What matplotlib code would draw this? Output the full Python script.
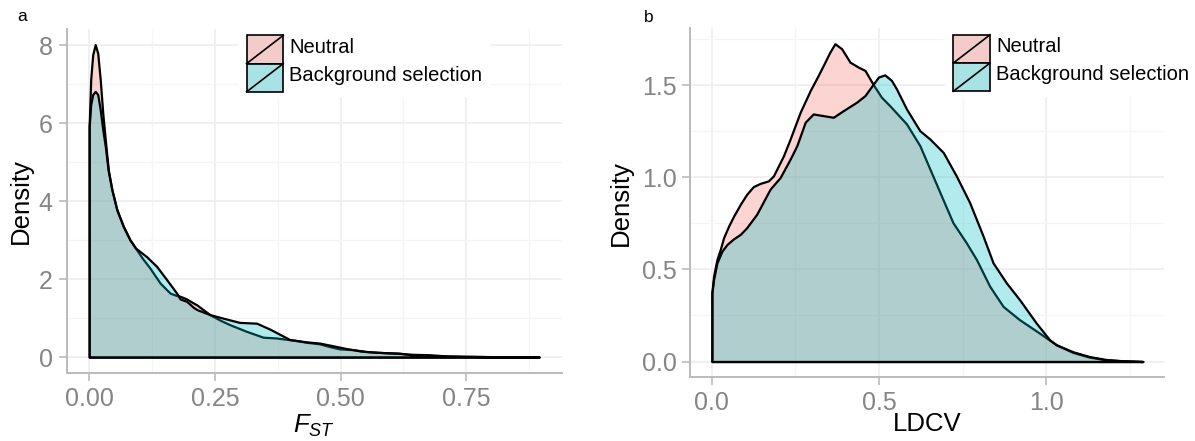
import matplotlib
matplotlib.use("Agg")
import matplotlib.pyplot as plt
from matplotlib.patches import Rectangle, Patch
from matplotlib.lines import Line2D
from matplotlib.legend_handler import HandlerBase
from matplotlib.ticker import MultipleLocator, FormatStrFormatter

plt.rcParams["font.family"] = ["Liberation Sans", "DejaVu Sans"]
plt.rcParams["mathtext.fontset"] = "custom"
plt.rcParams["mathtext.rm"] = "Liberation Sans"
plt.rcParams["mathtext.it"] = "Liberation Sans:italic"

# --- data ---
labels = ["Neutral", "Background selection"]
colors = ["#F8766D", "#00BFC4"]

# panel a: FST densities
fst_x_neutral = [0.000, 0.003, 0.007, 0.012, 0.017, 0.022, 0.027, 0.032, 0.038, 0.045,
                 0.055, 0.068, 0.081, 0.092, 0.105, 0.121, 0.141, 0.161, 0.174, 0.181,
                 0.194, 0.207, 0.214, 0.240, 0.260, 0.280, 0.313, 0.346, 0.372, 0.409,
                 0.432, 0.458, 0.478, 0.498, 0.525, 0.551, 0.577, 0.610, 0.644, 0.677,
                 0.710, 0.743, 0.809, 0.895]
fst_d_neutral = [5.92, 7.12, 7.76, 8.02, 7.80, 7.12, 6.26, 5.58, 4.81, 4.30,
                 3.78, 3.35, 3.01, 2.80, 2.55, 2.28, 1.90, 1.64, 1.58, 1.56,
                 1.49, 1.39, 1.34, 1.09, 0.95, 0.83, 0.66, 0.51, 0.49, 0.43,
                 0.38, 0.34, 0.27, 0.21, 0.19, 0.14, 0.12, 0.10, 0.07, 0.06,
                 0.03, 0.02, 0.01, 0.00]

fst_x_bgs = [0.000, 0.003, 0.007, 0.012, 0.017, 0.022, 0.027, 0.032, 0.038, 0.045,
             0.055, 0.068, 0.081, 0.092, 0.114, 0.134, 0.154, 0.174, 0.181, 0.194,
             0.207, 0.214, 0.240, 0.266, 0.299, 0.333, 0.359, 0.399, 0.432, 0.458,
             0.485, 0.511, 0.538, 0.564, 0.591, 0.617, 0.644, 0.670, 0.696, 0.743,
             0.809, 0.895]
fst_d_bgs = [5.92, 6.48, 6.74, 6.82, 6.74, 6.35, 5.84, 5.41, 4.77, 4.30,
             3.78, 3.35, 3.01, 2.80, 2.58, 2.33, 1.99, 1.64, 1.49, 1.43,
             1.28, 1.22, 1.09, 1.00, 0.89, 0.87, 0.72, 0.45, 0.39, 0.36,
             0.29, 0.22, 0.16, 0.13, 0.11, 0.10, 0.05, 0.03, 0.03, 0.02,
             0.01, 0.00]

# panel b: LDCV densities
ldcv_x_neutral = [0.000, 0.005, 0.015, 0.025, 0.035, 0.050, 0.065, 0.085, 0.104, 0.124,
                  0.144, 0.169, 0.184, 0.214, 0.234, 0.264, 0.294, 0.318, 0.338, 0.353,
                  0.368, 0.388, 0.413, 0.438, 0.458, 0.483, 0.507, 0.532, 0.582, 0.622,
                  0.652, 0.682, 0.721, 0.761, 0.791, 0.831, 0.871, 0.920, 0.980, 1.030,
                  1.080, 1.129, 1.179, 1.229, 1.289]
ldcv_d_neutral = [0.372, 0.463, 0.554, 0.608, 0.672, 0.735, 0.789, 0.853, 0.907, 0.949,
                  0.966, 0.980, 1.007, 1.116, 1.207, 1.352, 1.470, 1.552, 1.624, 1.679,
                  1.724, 1.697, 1.624, 1.597, 1.579, 1.501, 1.434, 1.388, 1.289, 1.171,
                  1.044, 0.917, 0.753, 0.644, 0.554, 0.408, 0.299, 0.227, 0.154, 0.091,
                  0.049, 0.024, 0.009, 0.004, 0.000]

ldcv_x_bgs = [0.000, 0.005, 0.015, 0.030, 0.045, 0.065, 0.085, 0.104, 0.134, 0.174,
              0.204, 0.234, 0.254, 0.279, 0.303, 0.333, 0.363, 0.393, 0.433, 0.458,
              0.483, 0.498, 0.517, 0.537, 0.552, 0.582, 0.622, 0.652, 0.692, 0.731,
              0.771, 0.811, 0.841, 0.881, 0.920, 0.970, 1.010, 1.030, 1.080, 1.129,
              1.179, 1.229, 1.289]
ldcv_d_bgs = [0.372, 0.445, 0.535, 0.599, 0.635, 0.666, 0.690, 0.726, 0.799, 0.935,
              0.998, 1.098, 1.171, 1.298, 1.343, 1.334, 1.325, 1.361, 1.407, 1.443,
              1.506, 1.543, 1.555, 1.525, 1.479, 1.370, 1.252, 1.207, 1.134, 1.007,
              0.862, 0.681, 0.535, 0.426, 0.336, 0.209, 0.118, 0.091, 0.053, 0.027,
              0.011, 0.004, 0.000]


class KeyHandler(HandlerBase):
    # ggplot-style density key: grey95 background, filled box, diagonal line
    def create_artists(self, legend, orig_handle, xdescent, ydescent,
                       width, height, fontsize, trans):
        x0, y0 = -xdescent, -ydescent - 0.16 * fontsize
        bg = Rectangle((x0, y0), width, height, facecolor="#F2F2F2",
                       edgecolor="none", transform=trans)
        box = Rectangle((x0, y0), width, height, facecolor=orig_handle.get_facecolor(),
                        edgecolor="black", lw=1.2, transform=trans)
        diag = Line2D([x0, x0 + width], [y0, y0 + height], color="black",
                      lw=1.2, transform=trans)
        return [bg, box, diag]


def expand(lo, hi, frac=0.05):
    pad = (hi - lo) * frac
    return lo - pad, hi + pad


def density_panel(ax, series, xmaj, ymaj, xfmt, yfmt, xlabel, leg_anchor):
    for (x, d), c in zip(series, colors):
        ax.fill_between(x, 0, d, facecolor=matplotlib.colors.to_rgba(c, 0.3),
                        edgecolor="black", linewidth=1.6, joinstyle="round",
                        zorder=2)
    xmax = max(max(x) for x, _ in series)
    ymax = max(max(d) for _, d in series)
    ax.set_xlim(*expand(0, xmax))
    ax.set_ylim(*expand(0, ymax))

    ax.xaxis.set_major_locator(MultipleLocator(xmaj))
    ax.xaxis.set_minor_locator(MultipleLocator(xmaj / 2))
    ax.yaxis.set_major_locator(MultipleLocator(ymaj))
    ax.yaxis.set_minor_locator(MultipleLocator(ymaj / 2))
    ax.xaxis.set_major_formatter(FormatStrFormatter(xfmt))
    ax.yaxis.set_major_formatter(FormatStrFormatter(yfmt))

    ax.grid(True, which="major", color="#EEEEEE", lw=1.2)
    ax.grid(True, which="minor", color="#F5F5F5", lw=1.0)
    ax.set_axisbelow(True)
    for s in ["top", "right"]:
        ax.spines[s].set_visible(False)
    for s in ["left", "bottom"]:
        ax.spines[s].set_color("#BBBBBB")
        ax.spines[s].set_linewidth(1.4)
    ax.tick_params(which="major", length=6, width=1.2, color="#BBBBBB",
                   labelcolor="#858585", labelsize=18, pad=4)
    ax.tick_params(which="minor", length=0)

    ax.set_ylabel("Density", fontsize=18.5)
    ax.set_xlabel(xlabel, fontsize=18.5)

    handles = [Patch(facecolor=matplotlib.colors.to_rgba(c, 0.3)) for c in colors]
    ax.legend(handles, labels, loc="upper left", bbox_to_anchor=leg_anchor,
              handler_map={Patch: KeyHandler()}, fontsize=14.5,
              handlelength=1.82, handleheight=1.78, labelspacing=0,
              handletextpad=0.3, borderpad=0.43, borderaxespad=0,
              frameon=True, fancybox=False, framealpha=1,
              edgecolor="none", facecolor="white")


fig = plt.figure(figsize=(11.95, 4.41), dpi=100)
ax_a = fig.add_axes([0.0558, 0.1549, 0.4142, 0.7794])
ax_b = fig.add_axes([0.5777, 0.1442, 0.3967, 0.7927])

density_panel(ax_a, [(fst_x_neutral, fst_d_neutral), (fst_x_bgs, fst_d_bgs)],
              0.25, 2, "%.2f", "%d", r"$F_{ST}$", (0.346, 1.016))
density_panel(ax_b, [(ldcv_x_neutral, ldcv_d_neutral), (ldcv_x_bgs, ldcv_d_bgs)],
              0.5, 0.5, "%.1f", "%.1f", "LDCV", (0.5364, 1.0139))

# y labels anchored by their right edge (rotated text, va=bottom)
ax_a.yaxis.set_label_coords(-0.068, 0.5)
ax_b.yaxis.set_label_coords(-0.121, 0.5)
ax_a.xaxis.set_label_coords(0.5, -0.118)
ax_b.xaxis.set_label_coords(0.5, -0.1)

fig.text(22.5 / 1195, 1 - 16.5 / 441, "a", fontsize=12.5, ha="center", va="center")
fig.text(649 / 1195, 1 - 17 / 441, "b", fontsize=12.5, ha="center", va="center")

fig.savefig("out.png", dpi=100)
